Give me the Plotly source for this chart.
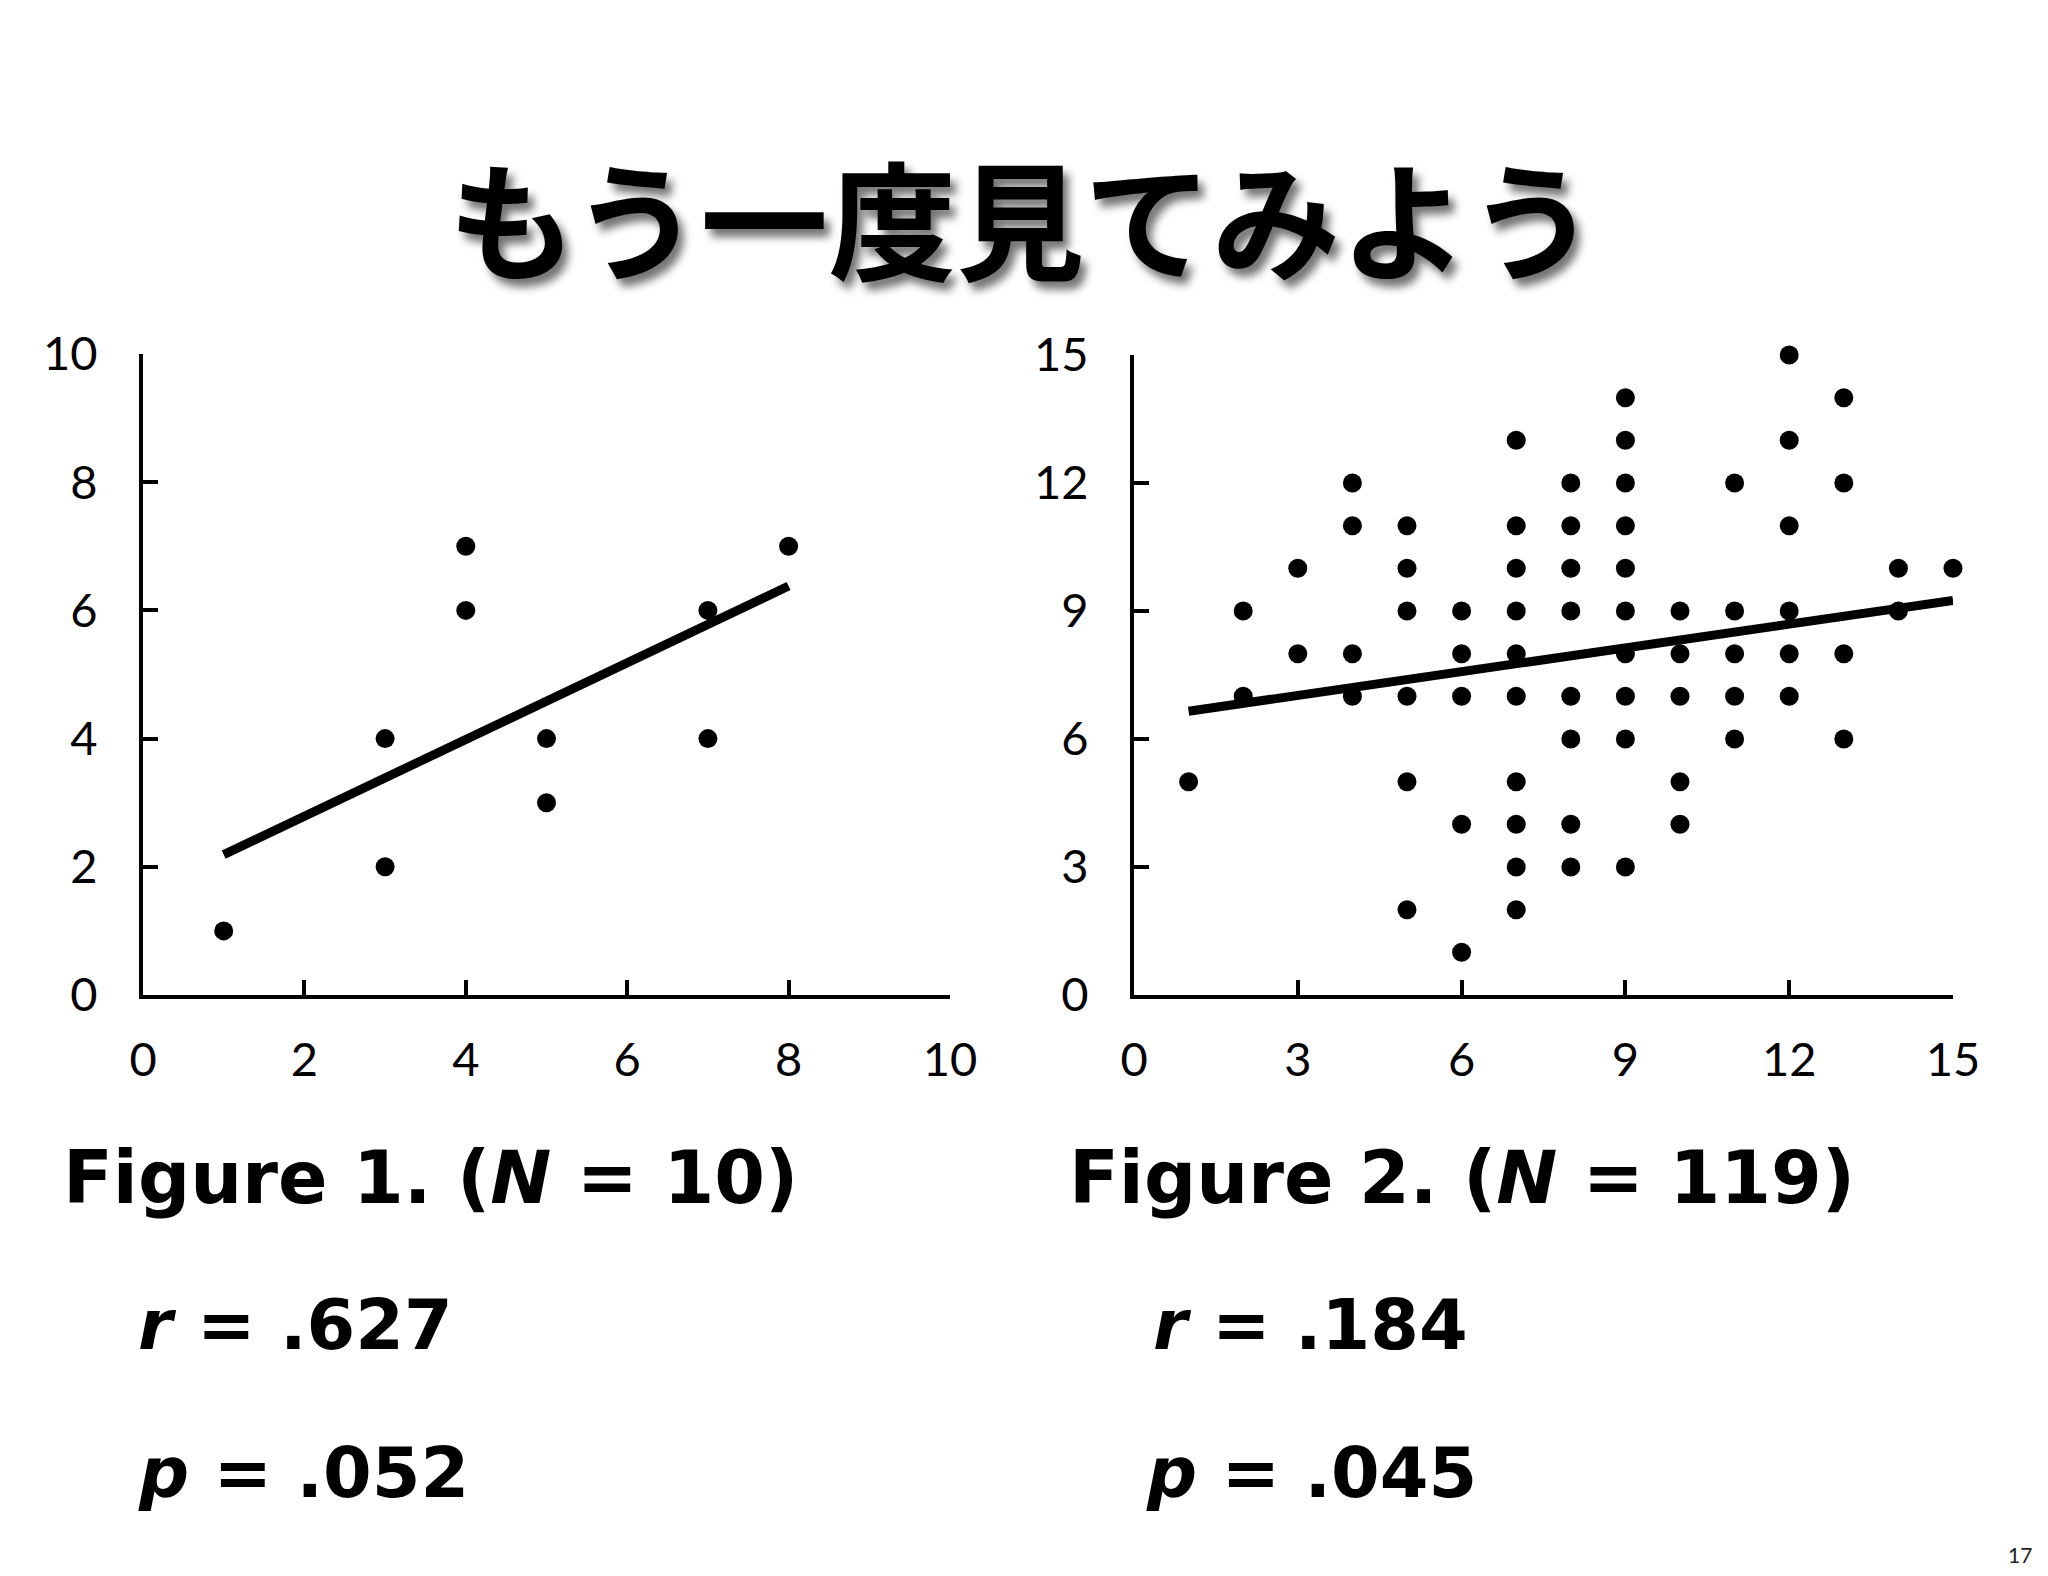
import plotly.graph_objects as go

# ---- data ----
fig1_x = [1, 3, 3, 4, 4, 5, 5, 7, 7, 8]
fig1_y = [1, 2, 4, 6, 7, 3, 4, 4, 6, 7]
fig1_fit_x = [1, 8]
fig1_fit_y = [2.19, 6.38]

fig2_x = ([1] + [2, 2] + [3, 3] + [4] * 4 + [5] * 6 + [6] * 5 + [7] * 10 + [8] * 8 +
          [9] * 10 + [10] * 5 + [11] * 5 + [12] * 6 + [13] * 4 + [14] * 2 + [15])
fig2_y = ([5] + [9, 7] + [10, 8] + [12, 11, 8, 7] + [11, 10, 9, 7, 5, 2] + [9, 8, 7, 4, 1] +
          [13, 11, 10, 9, 8, 7, 5, 4, 3, 2] + [12, 11, 10, 9, 7, 6, 4, 3] +
          [14, 13, 12, 11, 10, 9, 8, 7, 6, 3] + [9, 8, 7, 5, 4] + [12, 9, 8, 7, 6] +
          [15, 13, 11, 9, 8, 7] + [14, 12, 8, 6] + [10, 9] + [10])
fig2_fit_x = [1, 15]
fig2_fit_y = [6.65, 9.25]

fig1_ticks = [0, 2, 4, 6, 8, 10]
fig2_ticks = [0, 3, 6, 9, 12, 15]

W, H = 2048, 1576
OFF = 8  # page body margin
def px(x):
    return (x - OFF) / W
def py(y):
    return 1 - (y - OFF) / H

TICKFONT = dict(family="Lato, 'Open Sans', sans-serif", size=47, color="black")
BOLD = "'DejaVu Sans', sans-serif"

fig = go.Figure()
mk = dict(color="black", size=19, symbol="circle", line=dict(width=0))
fig.add_trace(go.Scatter(x=fig1_x, y=fig1_y, mode="markers", marker=mk,
                         xaxis="x", yaxis="y", cliponaxis=False, showlegend=False))
fig.add_trace(go.Scatter(x=fig1_fit_x, y=fig1_fit_y, mode="lines",
                         line=dict(color="black", width=9), xaxis="x", yaxis="y",
                         cliponaxis=False, showlegend=False))
fig.add_trace(go.Scatter(x=fig2_x, y=fig2_y, mode="markers", marker=mk,
                         xaxis="x2", yaxis="y2", cliponaxis=False, showlegend=False))
fig.add_trace(go.Scatter(x=fig2_fit_x, y=fig2_fit_y, mode="lines",
                         line=dict(color="black", width=9), xaxis="x2", yaxis="y2",
                         cliponaxis=False, showlegend=False))

ax = dict(showgrid=False, zeroline=False, showline=True, linecolor="black", linewidth=4,
          ticks="inside", ticklen=15, tickwidth=4, tickcolor="black", tickfont=TICKFONT,
          automargin=False, fixedrange=True)

fig.update_layout(
    template="none",
    width=W, height=H, margin=dict(l=0, r=0, t=0, b=0, pad=0),
    paper_bgcolor="white", plot_bgcolor="white",
    xaxis=dict(ax, domain=[px(143), px(950)], range=[0, 10], tickvals=fig1_ticks,
               anchor="y", ticklabelstandoff=21),
    yaxis=dict(ax, domain=[py(995), py(354)], range=[0, 10], tickvals=fig1_ticks,
               anchor="x", ticklabelstandoff=32),
    xaxis2=dict(ax, domain=[px(1134), px(1953)], range=[0, 15], tickvals=fig2_ticks,
                anchor="y2", ticklabelstandoff=21),
    yaxis2=dict(ax, domain=[py(995), py(355)], range=[0, 15], tickvals=fig2_ticks,
                anchor="x2", ticklabelstandoff=32),
)

def txt(text, x, y, size, xanchor="left", family=BOLD, weight="bold", color="black", shadow=None):
    f = dict(family=family, size=size, color=color, weight=weight)
    if shadow:
        f["shadow"] = shadow
    fig.add_annotation(text=text, x=px(x), y=py(y), xref="paper", yref="paper",
                       xanchor=xanchor, yanchor="middle", showarrow=False, font=f,
                       borderpad=0)

txt("もう一度見てみよう", 1022, 216, 128, xanchor="center",
    family="'Noto Sans CJK JP', sans-serif", shadow="6px 8px 8px rgba(0,0,0,0.55)")

txt("Figure 1. (<i>N</i> = 10)", 62, 1177, 73)
txt("<i>r</i> = .627", 137, 1325, 70)
txt("<i>p</i> = .052", 137, 1473, 70)
txt("Figure 2. (<i>N</i> = 119)", 1068, 1177, 73)
txt("<i>r</i> = .184", 1152, 1325, 70)
txt("<i>p</i> = .045", 1145, 1473, 70)
txt("17", 2020, 1554, 21, xanchor="center", family="Lato, sans-serif",
    weight="normal", color="#222222")

fig.write_html("out.html")
